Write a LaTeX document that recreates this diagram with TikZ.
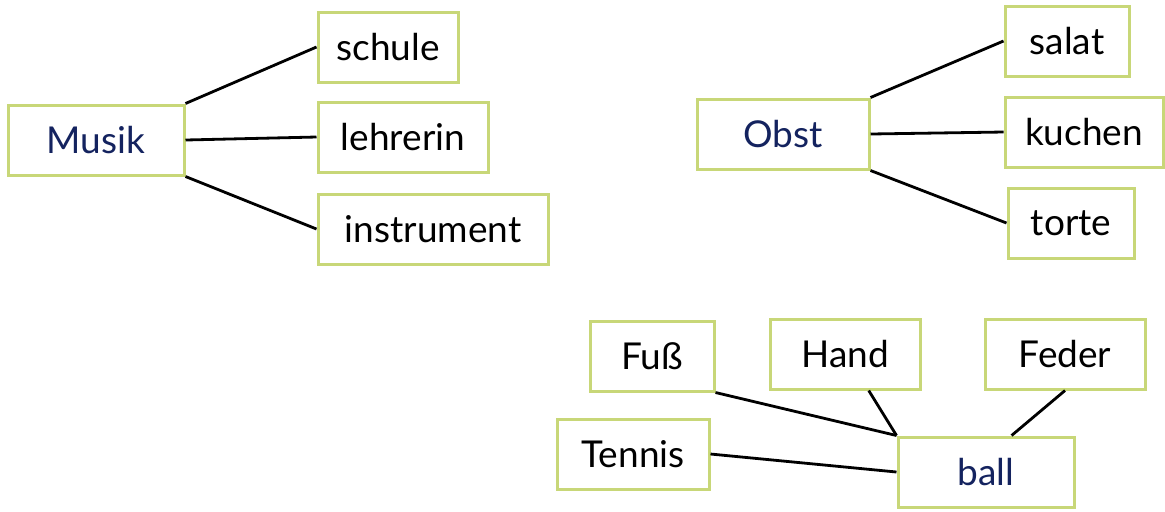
\documentclass[tikz,border=0pt]{standalone}
\usepackage{fontspec}
\setmainfont{Lato}
\definecolor{kartengruen}{RGB}{200,215,120}
\definecolor{wortblau}{RGB}{20,35,95}
\tikzset{
  karte/.style={draw=kartengruen, line width=1.5pt, fill=white, inner sep=0pt,
    minimum height=35pt, font=\fontsize{18.5}{21}\selectfont},
  kern/.style={karte, text=wortblau},
  verbindung/.style={line width=1.4pt, black}
}
\begin{document}
\begin{tikzpicture}[x=0.5pt, y=-0.5pt]

  \useasboundingbox (0,0) rectangle (1165,511);

  % Mots centraux
  \node[kern, minimum width=88pt] (musik) at (96,140) {Musik};
  \node[kern, minimum width=86pt] (obst) at (783,134) {Obst};
  \node[kern, minimum width=88pt] (ball) at (986,472) {ball};

  % Mots associés
  \foreach \nom/\x/\y/\w/\mot in {schule/388/47/70/schule, lehrerin/403/137/85/lehrerin,
      instrument/433/229/115/instrument, salat/1067/41/62/salat, kuchen/1084/132/79/kuchen,
      torte/1071/223/63/torte, fuss/652/356/62/Fuß, hand/845/354/75/Hand,
      feder/1065/354/80/Feder, tennis/633/454/76/Tennis} {
    \node[karte, minimum width=\w pt] (\nom) at (\x,\y) {\mot};
  }

  % Traits Musik
  \draw[verbindung] (musik.north east) -- (schule.west);
  \draw[verbindung] (musik.east) -- (lehrerin.west);
  \draw[verbindung] (musik.south east) -- (instrument.west);

  % Traits Obst
  \draw[verbindung] (obst.north east) -- (salat.west);
  \draw[verbindung] (obst.east) -- (kuchen.west);
  \draw[verbindung] (obst.south east) -- (torte.west);

  % Traits ball
  \draw[verbindung] (fuss.south east) -- (ball.north west);
  \draw[verbindung] (hand.-57) -- (ball.north west);
  \draw[verbindung] (feder.south) -- (ball.55);
  \draw[verbindung] (tennis.east) -- (ball.west);

\end{tikzpicture}
\end{document}
